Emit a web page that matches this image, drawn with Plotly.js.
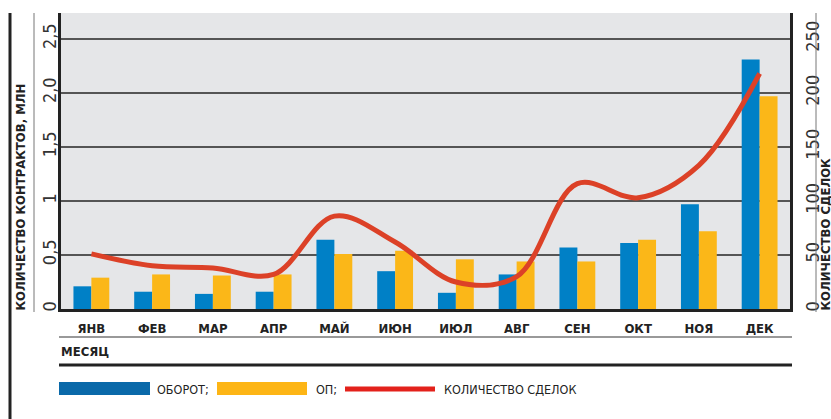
<!DOCTYPE html>
<html>
<head>
<meta charset="utf-8">
<script src="https://cdn.plot.ly/plotly-3.0.1.min.js"></script>
<style>
html,body{margin:0;padding:0;background:#fff;}
#chart{width:831px;height:419px;}
</style>
</head>
<body>
<div id="chart"></div>
<script>
// ---- data ----
var months = ['ЯНВ','ФЕВ','МАР','АПР','МАЙ','ИЮН','ИЮЛ','АВГ','СЕН','ОКТ','НОЯ','ДЕК'];
var turnover = [0.21, 0.16, 0.14, 0.16, 0.64, 0.35, 0.15, 0.32, 0.57, 0.61, 0.97, 2.31];   // ОБОРОТ, млн контрактов
var op = [0.29, 0.32, 0.31, 0.32, 0.51, 0.54, 0.46, 0.44, 0.44, 0.64, 0.72, 1.97];         // ОП, млн контрактов
var deals = [51, 40, 38, 32, 86, 62, 25, 30, 116, 103, 133, 218];                           // количество сделок
var leftTickVals = [0, 0.5, 1, 1.5, 2, 2.5];
var leftTickText = ['0', '0,5', '1', '1,5', '2,0', '2,5'];
var rightTickVals = [0, 50, 100, 150, 200, 250];
var rightTickText = ['0', '50', '100', '150', '200', '250'];
var legendNames = ['ОБОРОТ;', 'ОП;', 'КОЛИЧЕСТВО СДЕЛОК'];
var leftTitle = 'КОЛИЧЕСТВО КОНТРАКТОВ, МЛН';
var rightTitle = 'КОЛИЧЕСТВО СДЕЛОК';
var xTitle = 'МЕСЯЦ';

// ---- geometry helpers (pixel -> paper) ----
var W = 831, H = 419;
var mL = 61, mR = 41, mT = 13, mB = 110;
var pw = W - mL - mR, ph = H - mT - mB;
function px(x){ return (x - mL) / pw; }
function py(y){ return (H - mB - y) / ph; }

var FONT = '"Liberation Sans Narrow", "DejaVu Sans Condensed", "Arial Narrow", sans-serif';

var traces = [
  {type:'bar', x: months, y: turnover, name: legendNames[0], marker:{color:'#0080c6'}, yaxis:'y'},
  {type:'bar', x: months, y: op, name: legendNames[1], marker:{color:'#fbb718'}, yaxis:'y'},
  {type:'scatter', mode:'lines', x: months, y: deals, name: legendNames[2], yaxis:'y2',
   line:{color:'#dc4127', width:5, shape:'spline', smoothing:1}}
];

var shapes = [
  {type:'line', xref:'paper', yref:'paper', x0:px(10), x1:px(10), y0:py(13), y1:py(425), line:{color:'#222', width:3}},
  {type:'line', xref:'paper', yref:'paper', x0:px(34), x1:px(34), y0:py(13), y1:py(312), line:{color:'#777', width:1}},
  {type:'line', xref:'paper', yref:'paper', x0:px(816), x1:px(816), y0:py(13), y1:py(312), line:{color:'#777', width:1}},
  {type:'line', xref:'paper', yref:'paper', x0:px(59), x1:px(792), y0:py(337), y1:py(337), line:{color:'#777', width:1.5}},
  {type:'line', xref:'paper', yref:'paper', x0:px(59), x1:px(792), y0:py(365), y1:py(365), line:{color:'#222', width:3}},
  {type:'rect', xref:'paper', yref:'paper', x0:px(59), x1:px(150), y0:py(382), y1:py(395), fillcolor:'#0a69a9', line:{width:0}},
  {type:'rect', xref:'paper', yref:'paper', x0:px(217), x1:px(307), y0:py(382), y1:py(395), fillcolor:'#fdb515', line:{width:0}},
  {type:'line', xref:'paper', yref:'paper', x0:px(345), x1:px(435), y0:py(389), y1:py(389), line:{color:'#e3211b', width:5}}
];

var annotations = [
  {text: leftTitle, xref:'paper', yref:'paper', x:px(20), y:py(313), textangle:-90, showarrow:false,
   xanchor:'center', yanchor:'bottom', font:{family:FONT, size:13, color:'#222', weight:'bold'}},
  {text: rightTitle, xref:'paper', yref:'paper', x:px(825), y:py(313), textangle:-90, showarrow:false,
   xanchor:'center', yanchor:'bottom', font:{family:FONT, size:13, color:'#222', weight:'bold'}},
  {text: xTitle, xref:'paper', yref:'paper', x:px(59), y:py(351), showarrow:false,
   xanchor:'left', yanchor:'middle', font:{family:FONT, size:13, color:'#222', weight:'bold'}},
  {text: legendNames[0], xref:'paper', yref:'paper', x:px(155), y:py(389), showarrow:false,
   xanchor:'left', yanchor:'middle', font:{family:FONT, size:12.5, color:'#222'}},
  {text: legendNames[1], xref:'paper', yref:'paper', x:px(314), y:py(389), showarrow:false,
   xanchor:'left', yanchor:'middle', font:{family:FONT, size:12.5, color:'#222'}},
  {text: legendNames[2], xref:'paper', yref:'paper', x:px(442), y:py(389), showarrow:false,
   xanchor:'left', yanchor:'middle', font:{family:FONT, size:12.5, color:'#222'}}
];

var layout = {
  width: W, height: H,
  margin: {l: mL, r: mR, t: mT, b: mB, pad: 0},
  paper_bgcolor: '#ffffff',
  plot_bgcolor: '#e5e6e8',
  showlegend: false,
  barmode: 'group',
  bargap: 0.41,
  bargroupgap: 0,
  font: {family: FONT, color:'#222'},
  xaxis: {
    type:'category', showgrid:false, zeroline:false,
    showline:true, linecolor:'#222', linewidth:3,
    ticks:'', ticklabelstandoff: 5,
    tickfont:{family:FONT, size:13, color:'#222', weight:'bold'}
  },
  yaxis: {
    range:[0, 2.74], tickvals: leftTickVals, ticktext: leftTickText, tickangle:-90,
    showgrid:true, gridcolor:'#555', gridwidth:1.5, zeroline:false,
    showline:true, linecolor:'#222', linewidth:3,
    ticks:'', ticklabelstandoff: -5,
    tickfont:{family:FONT, size:18, color:'#333'}
  },
  yaxis2: {
    range:[0, 274], tickvals: rightTickVals, ticktext: rightTickText, tickangle:-90,
    overlaying:'y', side:'right', showgrid:false, zeroline:false,
    showline:true, linecolor:'#222', linewidth:3,
    ticks:'', ticklabelstandoff: 4,
    tickfont:{family:FONT, size:18, color:'#333'}
  },
  shapes: shapes,
  annotations: annotations
};

Plotly.newPlot('chart', traces, layout, {staticPlot:true, displayModeBar:false});
</script>
</body>
</html>
